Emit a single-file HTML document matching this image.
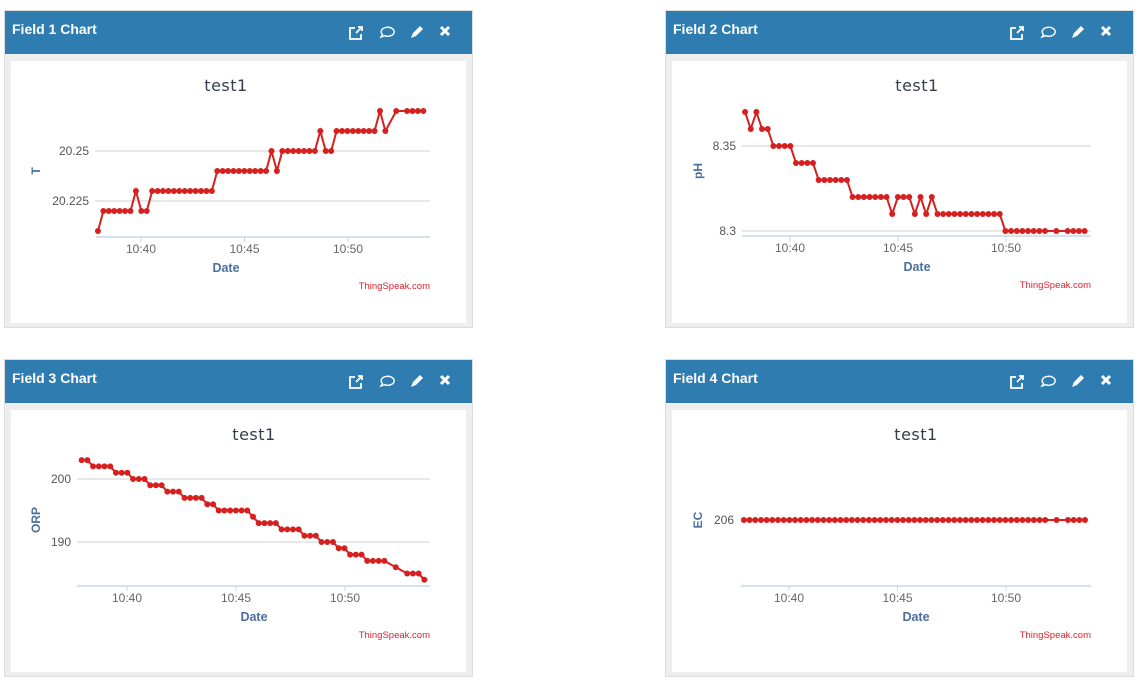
<!DOCTYPE html>
<html><head><meta charset="utf-8">
<style>
body{margin:0;background:#fff;width:1141px;height:680px;overflow:hidden;font-family:"Liberation Sans",sans-serif;}
.panel{position:absolute;width:469px;height:318px;background:#eeeeee;border:1px solid #dcdcdc;box-sizing:border-box;}
.hdr{position:absolute;left:0;top:0;right:0;height:43px;background:#2e7cb0;color:#fff;font-weight:bold;font-size:14px;line-height:37px;padding-left:7px;box-sizing:border-box;}
.inner{position:absolute;left:6px;top:50px;width:455px;height:262px;background:#fff;}
svg{position:absolute;left:0;top:0}
</style></head><body>
<div class="panel" style="left:4px;top:10px"><div class="hdr">Field 1 Chart</div><div class="inner"></div></div>
<div class="panel" style="left:665px;top:10px"><div class="hdr">Field 2 Chart</div><div class="inner"></div></div>
<div class="panel" style="left:4px;top:359px"><div class="hdr">Field 3 Chart</div><div class="inner"></div></div>
<div class="panel" style="left:665px;top:359px"><div class="hdr">Field 4 Chart</div><div class="inner"></div></div>
<svg id="s" width="1141" height="680" xmlns="http://www.w3.org/2000/svg"></svg>
<script>
// shared sample slots (each ~15.7 s apart), start 10:37:55
const slots=[0,1,2,3,4,5,6,7,8,9,10,11,12,13,14,15,16,17,18,19,20,21,22,23,24,25,26,27,28,29,30,31,32,33,34,35,36,37,38,39,40,41,42,43,44,45,46,47,48,49,50,51,52,53,55,57,58,59,60];
const startMin=37.92, slotMin=0.262;
const tickMinutes=[40,45,50];
const tickLabels=["10:40","10:45","10:50"];
const tempVals=[20.21,20.22,20.22,20.22,20.22,20.22,20.22,20.23,20.22,20.22,20.23,20.23,20.23,20.23,20.23,20.23,20.23,20.23,20.23,20.23,20.23,20.23,20.24,20.24,20.24,20.24,20.24,20.24,20.24,20.24,20.24,20.24,20.25,20.24,20.25,20.25,20.25,20.25,20.25,20.25,20.25,20.26,20.25,20.25,20.26,20.26,20.26,20.26,20.26,20.26,20.26,20.26,20.27,20.26,20.27,20.27,20.27,20.27,20.27];
const phVals=[8.37,8.36,8.37,8.36,8.36,8.35,8.35,8.35,8.35,8.34,8.34,8.34,8.34,8.33,8.33,8.33,8.33,8.33,8.33,8.32,8.32,8.32,8.32,8.32,8.32,8.32,8.31,8.32,8.32,8.32,8.31,8.32,8.31,8.32,8.31,8.31,8.31,8.31,8.31,8.31,8.31,8.31,8.31,8.31,8.31,8.31,8.30,8.30,8.30,8.30,8.30,8.30,8.30,8.30,8.30,8.30,8.30,8.30,8.30];
const orpVals=[203,203,202,202,202,202,201,201,201,200,200,200,199,199,199,198,198,198,197,197,197,197,196,196,195,195,195,195,195,195,194,193,193,193,193,192,192,192,192,191,191,191,190,190,190,189,189,188,188,188,187,187,187,187,186,185,185,185,184];
const ecVals=[206,206,206,206,206,206,206,206,206,206,206,206,206,206,206,206,206,206,206,206,206,206,206,206,206,206,206,206,206,206,206,206,206,206,206,206,206,206,206,206,206,206,206,206,206,206,206,206,206,206,206,206,206,206,206,206,206,206,206];
const tempTicks=[20.225,20.25], tempTickLabels=["20.225","20.25"];
const phTicks=[8.3,8.35], phTickLabels=["8.3","8.35"];
const orpTicks=[190,200], orpTickLabels=["190","200"];
const ecTicks=[206], ecTickLabels=["206"];

const S=document.getElementById('s');
function el(tag,attrs,txt){const e=document.createElementNS('http://www.w3.org/2000/svg',tag);for(const k in attrs)e.setAttribute(k,attrs[k]);if(txt!==undefined)e.textContent=txt;S.appendChild(e);return e;}

function chart(c){
  const xs=m=>c.x40+(m-40)*c.ppm;
  const ys=v=>c.yA+(v-c.vA)*(c.yB-c.yA)/(c.vB-c.vA);
  let t=el('text',{x:c.cx,y:c.top+36,'text-anchor':'middle','font-size':16,fill:'#333d4d','font-family':'DejaVu Sans, sans-serif','letter-spacing':'0.5'},'test1');
  
  c.ticks.forEach((v,i)=>{
    const g=el('line',{x1:c.gl,x2:c.right,y1:ys(v),y2:ys(v),stroke:'#d0d0d0','stroke-width':1});
    
    const l=el('text',{x:c.gl-6,y:ys(v)+4,'text-anchor':'end','font-size':12,fill:'#555'},c.tickLabels[i]);
    
  });
  const yt=el('text',{x:0,y:0,'font-size':12,'font-weight':'bold',fill:'#4a6f9f','text-anchor':'middle',transform:`translate(${c.yTitleX},${c.yTitleY}) rotate(-90)`},c.yTitle);
  
  const ax=el('line',{x1:c.axL,x2:c.right,y1:c.base,y2:c.base,stroke:'#ccd6eb','stroke-width':1.5});
  
  tickMinutes.forEach((m,i)=>{
    const tk=el('line',{x1:xs(m),x2:xs(m),y1:c.base,y2:c.base+5,stroke:'#ccd6eb'});
    
    const l=el('text',{x:xs(m),y:c.base+16,'text-anchor':'middle','font-size':12,fill:'#666'},tickLabels[i]);
    
  });
  const dt=el('text',{x:c.cx,y:c.base+35,'text-anchor':'middle','font-size':12.5,'font-weight':'bold',fill:'#4a6f9f'},'Date');
  
  const cr=el('text',{x:c.right,y:c.base+52,'text-anchor':'end','font-size':9.5,fill:'#d9232d'},'ThingSpeak.com');
  
  const pts=c.vals.map((v,i)=>[xs(startMin+slots[i]*slotMin),ys(v)]);
  const ln=el('polyline',{points:pts.map(p=>p.join(',')).join(' '),fill:'none',stroke:'#d62020','stroke-width':2});
  
  pts.forEach(p=>{const d=el('circle',{cx:p[0],cy:p[1],r:3,fill:'#d62020'});
    });
}
chart({id:'field-1',vals:tempVals,ticks:tempTicks,tickLabels:tempTickLabels,vA:20.225,yA:201,vB:20.25,yB:151,x40:141,ppm:20.7,gl:95,axL:96,right:430,base:237,top:55,cx:226,yTitle:'T',yTitleX:40,yTitleY:171});
chart({id:'field-2',vals:phVals,ticks:phTicks,tickLabels:phTickLabels,vA:8.3,yA:231,vB:8.35,yB:146,x40:790,ppm:21.6,gl:742,axL:742,right:1091,base:236,top:55,cx:917,yTitle:'pH',yTitleX:702,yTitleY:171});
chart({id:'field-3',vals:orpVals,ticks:orpTicks,tickLabels:orpTickLabels,vA:200,yA:479,vB:190,yB:542,x40:127,ppm:21.8,gl:77,axL:77,right:430,base:586,top:404,cx:254,yTitle:'ORP',yTitleX:40,yTitleY:520});
chart({id:'field-4',vals:ecVals,ticks:[],tickLabels:[],vA:206,yA:520,vB:207,yB:470,x40:789,ppm:21.7,gl:742,axL:741,right:1091,base:586,top:404,cx:916,yTitle:'EC',yTitleX:702,yTitleY:520});
ecTicks.forEach((v,i)=>{const l=el('text',{x:734,y:524,'text-anchor':'end','font-size':12,fill:'#555'},ecTickLabels[i]);
  });

// header icons
[[4,10],[665,10],[4,359],[665,359]].forEach(([px,py])=>{
  const oy=py+24;
  const g1=el('g',{transform:`translate(${px+345},${oy-8})`,fill:'none',stroke:'#fff','stroke-width':1.8});
  
  const a=document.createElementNS('http://www.w3.org/2000/svg','path');a.setAttribute('d','M6 2H1v11h11V8 M7 7l6-6 M9 1h4v4');g1.appendChild(a);
  const g2=el('path',{d:`M${px+377} ${oy+3} l1.5 -2.5 a6.5 4.5 0 1 1 2 1.2 z`,fill:'none',stroke:'#fff','stroke-width':1.4});
  
  const g3=el('path',{d:`M${px+407} ${oy+4} l2 -5 l7 -7 l3 3 l-7 7 z`,fill:'#fff'});
  
  const g4=el('path',{d:`M${px+437} ${oy-7} l8 8 M${px+445} ${oy-7} l-8 8`,stroke:'#fff','stroke-width':3});
  
});
</script>
</body></html>
